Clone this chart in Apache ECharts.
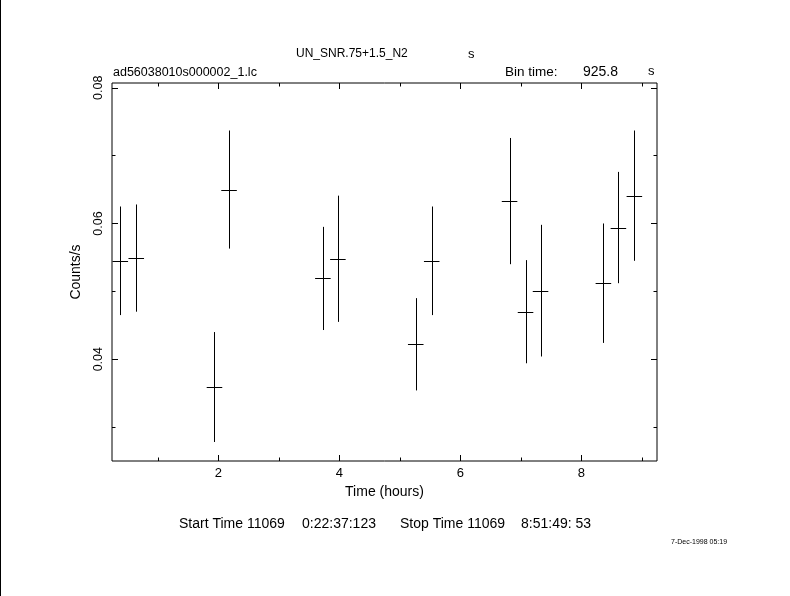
<!DOCTYPE html>
<html>
<head>
<meta charset="utf-8">
<script src="https://cdn.jsdelivr.net/npm/echarts@6/dist/echarts.min.js"></script>
<style>
  html, body { margin: 0; padding: 0; background: #fff; }
  #chart { width: 790px; height: 596px; box-sizing: border-box; border-left: 1px solid #000; }
</style>
</head>
<body>
<div id="chart"></div>
<script>
// Data
const timeHours = [0.380, 0.644, 1.937, 2.178, 3.729, 3.977, 5.264, 5.528, 6.815, 7.079, 7.327, 8.366, 8.614, 8.878];
const rate      = [0.0545, 0.0549, 0.0359, 0.0650, 0.0519, 0.0548, 0.0422, 0.0545, 0.0633, 0.0470, 0.0501, 0.0512, 0.0594, 0.0641];
const rateErr   = [0.0080, 0.0079, 0.0081, 0.0087, 0.0076, 0.0093, 0.0068, 0.0080, 0.0093, 0.0076, 0.0097, 0.0088, 0.0082, 0.0096];
const binTimeSec = 925.8;

const xMajor = [2, 4, 6, 8];
const xMinor = [1, 3, 5, 7, 9];
const yMajor = [0.04, 0.06, 0.08];
const yMinor = [0.03, 0.05, 0.07];
const xRange = [0.243, 9.252];
const yRange = [0.0250, 0.0807];

const FONT = 'Liberation Sans';
const halfBin = binTimeSec / 3600 / 2;

const data = timeHours.map((t, i) => [t, rate[i], rateErr[i]]);

function mkX(pos, ticks, len, labels, extra) {
  return Object.assign({
    type: 'value', position: pos, min: xRange[0], max: xRange[1],
    axisLine: { show: false }, splitLine: { show: false },
    axisTick: { show: true, inside: true, length: len, customValues: ticks, lineStyle: { color: '#000', width: 1 } },
    axisLabel: labels ? { show: true, customValues: labels, color: '#000', fontFamily: FONT, fontSize: 13, margin: 6 } : { show: false }
  }, extra || {});
}
function mkY(pos, ticks, len, labels, extra) {
  return Object.assign({
    type: 'value', position: pos, min: yRange[0], max: yRange[1],
    axisLine: { show: false }, splitLine: { show: false },
    axisTick: { show: true, inside: true, length: len, customValues: ticks, lineStyle: { color: '#000', width: 1 } },
    axisLabel: labels ? { show: true, customValues: labels, rotate: 90, color: '#000', fontFamily: FONT, fontSize: 12.5, margin: 7,
      formatter: v => v.toFixed(2) } : { show: false }
  }, extra || {});
}

const txt = (text, left, top, size) => ({
  text, left, top, padding: 0,
  textStyle: { fontFamily: FONT, fontSize: size || 12, fontWeight: 'normal', color: '#000' }
});

const option = {
  backgroundColor: '#fff',
  animation: false,
  title: [
    txt('UN_SNR.75+1.5_N2', 295, 48),
    txt('s', 467, 48, 13),
    txt('ad56038010s000002_1.lc', 112, 66, 12.5),
    txt('Bin time:', 504, 65, 13.5),
    txt('925.8', 582, 65, 14),
    txt('s', 647, 65, 13),
    txt('Start Time 11069', 178, 517, 14),
    txt('0:22:37:123', 301, 517, 14),
    txt('Stop Time 11069', 399, 517, 14),
    txt('8:51:49: 53', 520, 517, 14),
    txt('7-Dec-1998 05:19', 670, 539, 7)
  ],
  grid: { left: 111, right: 133, top: 83, bottom: 135, show: true, borderColor: '#000', borderWidth: 1, backgroundColor: 'transparent' },
  xAxis: [
    mkX('bottom', xMajor, 6, xMajor, { name: 'Time (hours)', nameLocation: 'middle', nameGap: 21,
      nameTextStyle: { fontFamily: FONT, fontSize: 14, color: '#000' } }),
    mkX('bottom', xMinor, 3.5, null),
    mkX('top', xMajor, 6, null),
    mkX('top', xMinor, 3.5, null)
  ],
  yAxis: [
    mkY('left', yMajor, 6, yMajor, { name: 'Counts/s', nameLocation: 'middle', nameGap: 29, nameRotate: 90,
      nameTextStyle: { fontFamily: FONT, fontSize: 14, color: '#000' } }),
    mkY('left', yMinor, 3.5, null),
    mkY('right', yMajor, 6, null),
    mkY('right', yMinor, 3.5, null)
  ],
  series: [{
    type: 'custom',
    xAxisIndex: 0, yAxisIndex: 0,
    clip: true,
    data: data,
    renderItem: function (params, api) {
      const t = api.value(0), v = api.value(1), e = api.value(2);
      const top = api.coord([t, v + e]);
      const bot = api.coord([t, v - e]);
      const l = api.coord([t - halfBin, v]);
      const r = api.coord([t + halfBin, v]);
      const style = { stroke: '#000', lineWidth: 1 };
      return {
        type: 'group',
        children: [
          { type: 'line', shape: { x1: Math.round(top[0]) + 0.5, y1: top[1], x2: Math.round(bot[0]) + 0.5, y2: bot[1] }, style },
          { type: 'line', shape: { x1: l[0], y1: Math.round(l[1]) + 0.5, x2: r[0], y2: Math.round(r[1]) + 0.5 }, style }
        ]
      };
    }
  }]
};

const chart = echarts.init(document.getElementById('chart'), null, { renderer: 'canvas' });
chart.setOption(option);
</script>
</body>
</html>
